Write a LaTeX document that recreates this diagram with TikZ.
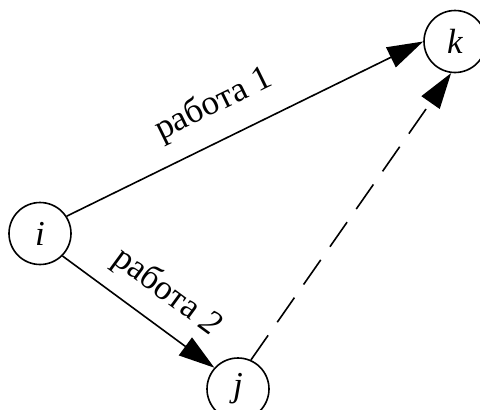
\documentclass[tikz,border=0pt]{standalone}
\usepackage{fontspec}
\setmainfont{Liberation Serif}
\usetikzlibrary{arrows.meta}
\begin{document}
\begin{tikzpicture}[x=1pt,y=-1pt,
  vert/.style={circle,draw,line width=1.6pt,minimum size=62pt,inner sep=0pt,font=\fontsize{35}{40}\selectfont\itshape},
  work/.style={line width=1.6pt,-{Triangle[length=36pt,width=22pt]}},
  lbl/.style={font=\fontsize{35}{40}\selectfont,sloped}]
\useasboundingbox (0,0) rectangle (480,410);
\node[vert] (i) at (40,233.5) {i};
\node[vert] (k) at (455,41.5) {k};
\node[vert] (j) at (238,389) {j};
\draw[work] (i.33) -- node[lbl,pos=0.456,above=15pt] {работа 1} (k.west);
\draw[work] (i.-45) -- node[lbl,pos=0.56,above=12pt] {работа \textit{2}} (j.138);
\draw[work,dash pattern=on 30pt off 16pt] (j.66) -- (k.263);
\end{tikzpicture}
\end{document}
